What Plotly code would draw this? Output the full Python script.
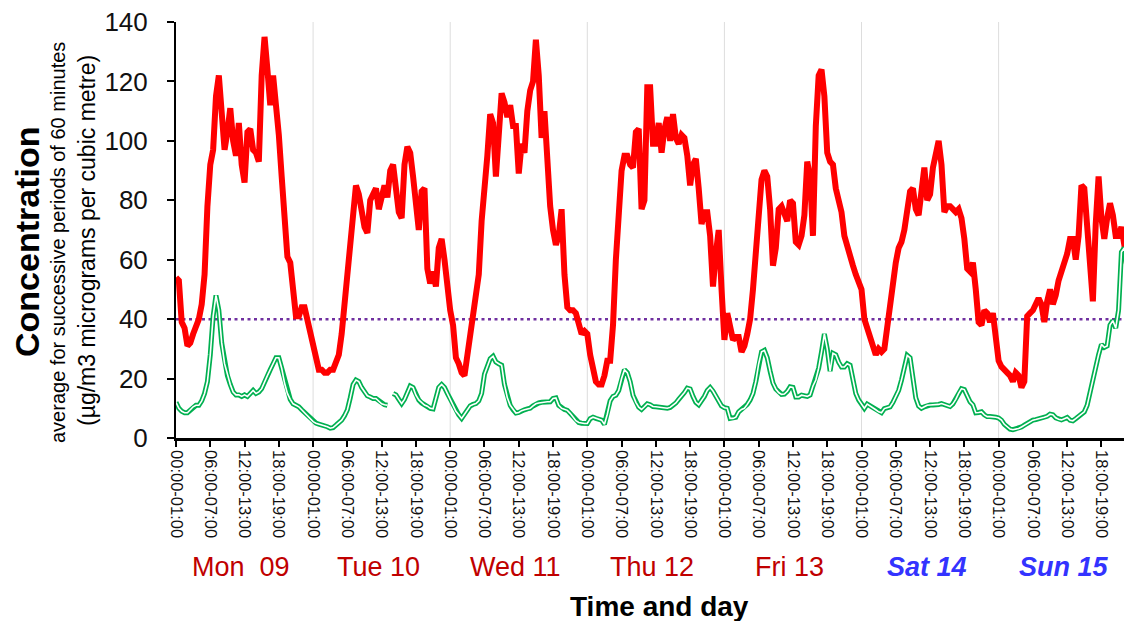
import plotly.graph_objects as go

# ---------------- data (half-hour steps from Mon 00:00) ----------------
red_mon = [54,53,39,37,31,32,35,38,40,45, 55,78,92,97,115,122,108,97,103,111,
           100,95,106,92,86,103,104,97,96,93, 122,135,124,112,122,113,102,88,70,61,
           59,50,41,41,44,44,40,35]
red_tue = [31,26,23,23,22,22,23,23,25,28, 35,45,56,70,79,85,82,75,71,69,
           80,82,84,77,82,85,81,90,92,84, 76,74,92,98,96,88,76,70,83,84,
           57,52,56,51,64,67,60,50]
red_wed = [43,38,27,25,22,21,28,35,41,47, 55,73,83,95,109,106,88,104,116,113,
           108,112,105,105,89,99,96,110,117,120, 134,122,101,110,93,78,70,65,68,77,
           55,44,43,43,42,39,35,36]
red_thu = [35,28,22,19,18,18,21,26,26,38, 60,72,90,95,95,92,91,103,104,77,
           80,118,118,99,99,106,96,104,108,100, 109,101,99,102,101,95,85,92,94,84,
           72,76,76,68,51,62,70,50]
red_fri = [33,42,37,33,34,34,29,31,35,40, 50,62,78,87,90,88,77,58,64,77,
           78,75,73,80,79,66,65,68,75,93, 88,68,105,122,124,115,96,93,92,84,
           79,76,68,64,60,58,55,53]
red_sat = [50,40,37,35,31,28,30,29,30,38, 47,53,59,64,66,70,77,83,84,77,
           75,84,91,80,82,91,95,100,92,76, 78,78,77,76,77,74,67,57,56,59,
           50,39,38,43,42,39,42,32]
red_sun = [26,24,23,22,21,19,22,21,17,19, 41,42,43,45,47,45,39,46,50,45,
           48,53,57,59,62,67,67,60,68,85, 84,70,55,46,72,88,74,67,74,79,
           75,68,68,71,65,58,55]

green_mon = [12,10,9,8.5,8.5,9.5,10.5,11,11,12.5, 15,19,28,41,48,43,32,25,21,18,
             15.5,14.5,14.5,14,14.5,14,15,16,15,15.5, 16.6,19,21,23,25,27,27,23.5,18.5,15,
             13,11.5,11,10.5,9.5,8.5,7.5,6.5]
green_tue = [5.5,5,4.7,4.5,4.2,3.8,3.3,3.5,4.3,5, 6,7.5,9.5,13.5,18,19.5,19,17,15.5,14.2,
             13.8,13.3,13.3,12.5,11.5,11.2,11,None,15,14.5, 13,11.6,13,15.5,17.5,17,14.4,12.8,11.8,11.1,
             10.7,10,9.8,13,17,18,17,15]
green_wed = [13,11,9,7.8,6.6,8,9.6,10.8,11.3,11.6, 12.5,15,21.5,24.5,26.7,27.5,25.6,25,24.5,18,
             13.5,11,9.5,8.4,8.6,9.2,9.5,9.8,10,10.8, 11.5,11.8,12,12.2,12.2,12.2,13.3,13.5,11,10,
             9.6,9.3,8.3,7.2,5.8,5.2,5,4.9]
green_thu = [4.9,6.5,7,6.6,6.4,6,4.6,8,12.5,14, 14.4,16,20,23,22,19,14.4,12,10.4,9.6,
             10.5,11.5,11.2,10.6,10.5,10.4,10.2,10,10,10.3, 11,11.8,13,14,15.3,16.8,16.5,14,12,11.2,
             12.5,14,16,17,15.8,14,12.5,10.8]
green_fri = [10.2,10,6.6,6.6,7,8.8,9.6,10,11.3,12.8, 15,19,25,29,29.5,27,22.5,18.5,16.5,15.3,
             14.7,14.8,15.7,17.2,17,13.8,13.8,14.4,14.2,14, 14.5,17.5,19.5,23.5,29,35,30,22.5,28.5,28,
             25.5,23.9,23.9,25,24.5,20,15,12.8]
green_sat = [11.5,10,11.4,10.8,10.3,9.5,8.8,8.5,9.9,10.2, 10.5,12,14,16,19.5,24,27.8,27,21,13.5,
             10.8,10,10.5,11,11.1,11.1,11.1,11.3,11.6,11.3, 11,10.6,11.5,13,15,16.6,16.3,14,12.2,11.2,
             8.5,8.6,8.8,7.8,7.2,7.2,7.2,7]
green_sun = [6.7,6,4.6,3.7,3,2.8,3,3.2,3.7,4.3, 5,5.6,6,6.2,6.4,6.6,7,7.3,8,7.8,
             6.8,6.3,6.1,6.5,6.9,6,5.8,6.5,7.3,8, 8.8,11,15.5,20,23.4,28,31.5,30.5,31,38,
             39.5,37,43,62.6,64,57,46]

limit_value = 40
day_labels = ["Mon  09", "Tue 10", "Wed 11", "Thu 12", "Fri 13", "Sat 14", "Sun 15"]
weekend = [False, False, False, False, False, True, True]
hour_labels = ["00:00-01:00", "06:00-07:00", "12:00-13:00", "18:00-19:00"]
y_ticks = [0, 20, 40, 60, 80, 100, 120, 140]

red = red_mon + red_tue + red_wed + red_thu + red_fri + red_sat + red_sun
green = green_mon + green_tue + green_wed + green_thu + green_fri + green_sat + green_sun
hours = [i * 0.5 for i in range(len(red))]
x_end = hours[-1]

tickvals = [6 * k for k in range(28)]
ticktext = [hour_labels[k % 4] for k in range(28)]

FONT = "Liberation Sans, Arial, sans-serif"
OFF = 8  # page body margin offset
W, H = 1132 - OFF, 621 - OFF
L, R, T, B = 176 - OFF, 2, 22 - OFF, 183
pw, ph = W - L - R, H - T - B

def px_x(px):
    return (px - OFF - L) / pw

def px_y(py):
    return (H - B - (py - OFF)) / ph

fig = go.Figure()

fig.add_trace(go.Scatter(x=[0, x_end], y=[limit_value, limit_value], mode="lines",
                         line=dict(color="#7030A0", width=2.5, dash="3px,3.5px"),
                         hoverinfo="skip", showlegend=False))
fig.add_trace(go.Scatter(x=hours, y=red, mode="lines",
                         line=dict(color="#FF0000", width=6), showlegend=False))
fig.add_trace(go.Scatter(x=hours, y=green, mode="lines", connectgaps=False,
                         line=dict(color="#00B050", width=5), showlegend=False))
fig.add_trace(go.Scatter(x=hours, y=green, mode="lines", connectgaps=False,
                         line=dict(color="#FFFFFF", width=1.6), showlegend=False))

shapes = []
for d in list(range(24, 168, 24)) + [x_end]:
    shapes.append(dict(type="line", xref="x", yref="paper", x0=d, x1=d, y0=0, y1=1,
                       line=dict(color="#DDDDDD", width=1), layer="below"))

annotations = []
for i, lab in enumerate(day_labels):
    if weekend[i]:
        txt = "<b><i>" + lab + "</i></b>"
        col = "#3333FF"
    else:
        txt = lab
        col = "#C00000"
    annotations.append(dict(text=txt, x=24 * i + 11.4, y=px_y(567), xref="x", yref="paper",
                            showarrow=False, xanchor="center", yanchor="middle",
                            font=dict(family=FONT, size=27, color=col)))
annotations.append(dict(text="<b>Time and day</b>", x=px_x(659), y=px_y(606), xref="paper", yref="paper",
                        showarrow=False, xanchor="center", yanchor="middle",
                        font=dict(family=FONT, size=28, color="#000000")))
annotations.append(dict(text="<b>Concentration</b>", x=px_x(27), y=px_y(242), xref="paper", yref="paper",
                        showarrow=False, xanchor="center", yanchor="middle", textangle=-90,
                        font=dict(family=FONT, size=34, color="#000000")))
annotations.append(dict(text="average for successive periods of 60 minutes", x=px_x(58), y=px_y(243),
                        xref="paper", yref="paper", showarrow=False, xanchor="center", yanchor="middle",
                        textangle=-90, font=dict(family=FONT, size=20, color="#000000")))
annotations.append(dict(text="(µg/m3 micrograms per cubic metre)", x=px_x(87), y=px_y(241),
                        xref="paper", yref="paper", showarrow=False, xanchor="center", yanchor="middle",
                        textangle=-90, font=dict(family=FONT, size=23, color="#000000")))

fig.update_layout(
    width=W, height=H,
    margin=dict(l=L, r=R, t=T, b=B, autoexpand=False),
    paper_bgcolor="white", plot_bgcolor="white",
    showlegend=False,
    shapes=shapes, annotations=annotations,
    font=dict(family=FONT, color="#000000"),
)
fig.update_xaxes(range=[0, x_end], tickmode="array", tickvals=tickvals, ticktext=ticktext,
                 tickangle=90, tickfont=dict(family=FONT, size=16.5, color="#111111"),
                 showgrid=False, zeroline=False, showline=True, linecolor="#000000", linewidth=2.5,
                 ticks="outside", ticklen=6, tickwidth=2, tickcolor="#000000", automargin=False)
fig.update_yaxes(range=[0, 140], tickmode="array", tickvals=y_ticks,
                 ticktext=[str(v) for v in y_ticks],
                 tickfont=dict(family=FONT, size=26, color="#111111"),
                 showgrid=False, zeroline=False, showline=True, linecolor="#000000", linewidth=2,
                 ticks="outside", ticklen=7, tickwidth=2, tickcolor="#000000",
                 ticklabelstandoff=14, ticklabeloverflow="allow", automargin=False)

fig.write_html("out.html")
